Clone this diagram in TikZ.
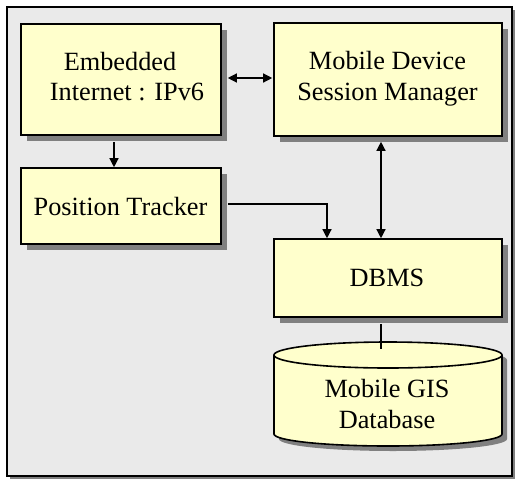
\documentclass[tikz,border=0pt]{standalone}
\usepackage{fontspec}
\setmainfont{Liberation Serif}
\usetikzlibrary{arrows.meta,calc,shadows}
\definecolor{bggray}{HTML}{EAEAEA}
\definecolor{boxyellow}{HTML}{FFFFCC}
\definecolor{shadowgray}{HTML}{808080}
\begin{document}
\begin{tikzpicture}[x=1pt,y=-1pt,
  box/.style={draw=black,line width=1.6pt,fill=boxyellow,inner sep=0pt,
    drop shadow={shadow xshift=6pt,shadow yshift=-6pt,opacity=1,fill=shadowgray}},
  lbl/.style={anchor=base,inner sep=0pt,font=\fontsize{26.3}{31}\selectfont},
  arr/.style={line width=1.3pt,-{Triangle[length=9pt,width=9pt]}},
  darr/.style={line width=1.3pt,{Triangle[length=9pt,width=9pt]}-{Triangle[length=9pt,width=9pt]}},
  conn/.style={line width=1.3pt}]
\useasboundingbox (0,0) rectangle (516,482);
% outer frame
\fill[shadowgray] (9.5,9.5) rectangle (514.5,478.5);
\draw[line width=1.6pt,fill=bggray] (7,7) rectangle (512,476);
% boxes
\node[box,minimum width=200pt,minimum height=111pt] (emb) at (121,79.5) {};
\node[box,minimum width=228pt,minimum height=113pt] (mob) at (388,79.5) {};
\node[box,minimum width=200pt,minimum height=76pt] (pos) at (121,206) {};
\node[box,minimum width=228pt,minimum height=78pt] (dbms) at (388,278) {};
% cylinder
\fill[shadowgray] (279,360) -- (279,439)
  arc[start angle=180,end angle=360,x radius=114pt,y radius=12pt]
  -- (507,360)
  arc[start angle=0,end angle=180,x radius=114pt,y radius=13pt] -- cycle;
\draw[line width=1.6pt,fill=boxyellow] (274,355) -- (274,434)
  arc[start angle=180,end angle=360,x radius=114pt,y radius=12pt]
  -- (502,355)
  arc[start angle=0,end angle=180,x radius=114pt,y radius=13pt] -- cycle;
\draw[line width=1.6pt] (274,355)
  arc[start angle=180,end angle=360,x radius=114pt,y radius=13pt];
\coordinate (cyltop) at (381,349);
% labels
\node[lbl] (embA) at (120,70) {Embedded};
\node[lbl] (embB) at (127,100.5) {Internet : IPv6};
\node[lbl] (mobA) at (387.5,69) {Mobile Device};
\node[lbl] (mobB) at (387.5,100) {Session Manager};
\node[lbl] (posA) at (120.5,215) {Position Tracker};
\node[lbl] (dbmsA) at (387,286) {DBMS};
\node[lbl] (cylA) at (387,397) {Mobile GIS};
\node[lbl] (cylB) at (387,428) {Database};
% connectors
\draw[darr] ($(emb.east)+(6,-1.5)$) -- ($(mob.west)+(-1,-1.5)$);
\draw[arr] ($(emb.south)+(-7,6)$) -- ($(pos.north)+(-7,0)$);
\draw[arr] ($(pos.east)+(6,-2)$) -| ($(dbms.north)+(-61,0)$);
\draw[darr] ($(mob.south)+(-7,5)$) -- ($(dbms.north)+(-7,0)$);
\draw[conn] ($(dbms.south)+(-7,6)$) -- (cyltop);
\end{tikzpicture}
\end{document}
